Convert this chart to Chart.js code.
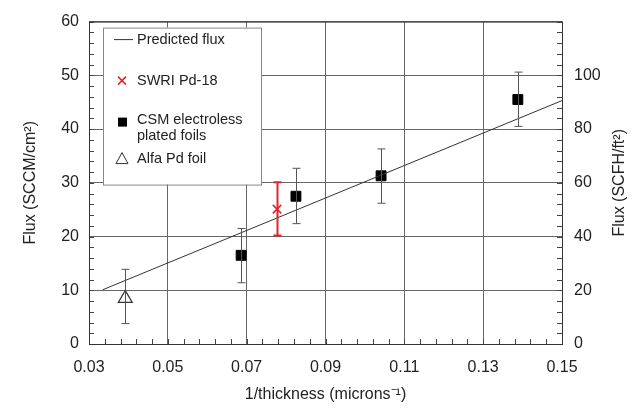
<!DOCTYPE html>
<html>
<head>
<meta charset="utf-8">
<script src="https://cdn.jsdelivr.net/npm/chart.js@4.4.0/dist/chart.umd.min.js"></script>
<style>
  body { margin: 0; background: #fff; }
  #wrap { width: 637px; height: 408px; }
</style>
</head>
<body>
<div id="wrap"><canvas id="flux-chart"></canvas></div>
<script>
// Predicted flux line (end points)
var lineX = [0.0335, 0.15];
var lineY = [10.1, 45.3];

// SWRI Pd-18
var swriX = [0.0777];
var swriY = [25.1];
var swriLow = [20.2];
var swriHigh = [30.1];

// CSM electroless plated foils
var csmX = [0.0686, 0.0825, 0.1041, 0.1388];
var csmY = [16.5, 27.5, 31.3, 45.5];
var csmLow = [11.4, 22.4, 26.2, 40.5];
var csmHigh = [21.5, 32.7, 36.3, 50.6];

// Alfa Pd foil
var alfaX = [0.0392];
var alfaY = [8.5];
var alfaLow = [3.8];
var alfaHigh = [13.9];

var xTicks = [0.03, 0.05, 0.07, 0.09, 0.11, 0.13, 0.15];
var legendLabels = ['Predicted flux', 'SWRI Pd-18', 'CSM electroless\nplated foils', 'Alfa Pd foil'];
var rightTitle = 'Flux (SCFH/ft\u00B2)';

function pts(xs, ys) {
    return xs.map(function (x, i) { return { x: x, y: ys[i] }; });
}

var font = 'Liberation Sans, Arial, sans-serif';
Chart.defaults.font.family = font;
Chart.defaults.color = '#222';

// error bars, minor ticks, frame, right title and the boxed legend
var extras = {
    id: 'extras',
    beforeDatasetsDraw: function (chart) {
        var ctx = chart.ctx, a = chart.chartArea;
        var xs = chart.scales.x, ys = chart.scales.y;
        ctx.save();
        ctx.strokeStyle = '#444';
        ctx.lineWidth = 1;
        ctx.beginPath();
        for (var v = 0; v <= 60; v += 2) {
            var py = Math.round(ys.getPixelForValue(v)) + 0.5;
            ctx.moveTo(a.left, py); ctx.lineTo(a.left + 5, py);
            ctx.moveTo(a.right, py); ctx.lineTo(a.right - 5, py);
        }
        for (var t = 0.03; t <= 0.1501; t += 0.004) {
            var px = Math.round(xs.getPixelForValue(t)) + 0.5;
            ctx.moveTo(px, a.bottom); ctx.lineTo(px, a.bottom - 5);
        }
        ctx.stroke();
        ctx.strokeStyle = '#333';
        ctx.strokeRect(a.left + 0.5, a.top + 0.5, a.right - a.left, a.bottom - a.top);

        // right axis title, read bottom to top like the left one
        ctx.translate(620, (a.top + a.bottom) / 2);
        ctx.rotate(-Math.PI / 2);
        ctx.font = '16px ' + font;
        ctx.fillStyle = '#222';
        ctx.textAlign = 'center';
        ctx.textBaseline = 'middle';
        ctx.fillText(rightTitle, 0, 0);
        ctx.restore();
    },
    afterDatasetsDraw: function (chart) {
        var ctx = chart.ctx, a = chart.chartArea;
        var xs = chart.scales.x, ys = chart.scales.y;
        function bars(xArr, lo, hi, color, width) {
            ctx.strokeStyle = color;
            ctx.lineWidth = width;
            ctx.beginPath();
            xArr.forEach(function (x, i) {
                var px = Math.round(xs.getPixelForValue(x)) + 0.5;
                var p1 = ys.getPixelForValue(lo[i]), p2 = ys.getPixelForValue(hi[i]);
                ctx.moveTo(px, p1); ctx.lineTo(px, p2);
                ctx.moveTo(px - 4, p1); ctx.lineTo(px + 4, p1);
                ctx.moveTo(px - 4, p2); ctx.lineTo(px + 4, p2);
            });
            ctx.stroke();
        }
        ctx.save();
        bars(csmX, csmLow, csmHigh, '#555', 1);
        bars(alfaX, alfaLow, alfaHigh, '#555', 1);
        bars(swriX, swriLow, swriHigh, '#e0242c', 2);
        ctx.restore();

        // boxed legend
        ctx.save();
        var lx = a.left + 14, ly = a.top + 6, lw = 158, lh = 157;
        ctx.fillStyle = '#fff';
        ctx.fillRect(lx, ly, lw, lh);
        ctx.strokeStyle = '#888';
        ctx.lineWidth = 1;
        ctx.strokeRect(lx + 0.5, ly + 0.5, lw, lh);
        ctx.font = '14.5px ' + font;
        ctx.textBaseline = 'middle';
        var tx = lx + 34, mx = lx + 19;
        var rows = [ly + 12, ly + 53, ly + 94, ly + 131];
        // line sample
        ctx.strokeStyle = '#333';
        ctx.beginPath();
        ctx.moveTo(lx + 11, rows[0]); ctx.lineTo(lx + 30, rows[0]);
        ctx.stroke();
        ctx.strokeStyle = '#e0242c';
        ctx.lineWidth = 1.5;
        ctx.beginPath();
        ctx.moveTo(mx - 4, rows[1] - 4); ctx.lineTo(mx + 4, rows[1] + 4);
        ctx.moveTo(mx + 4, rows[1] - 4); ctx.lineTo(mx - 4, rows[1] + 4);
        ctx.stroke();
        ctx.fillStyle = '#000';
        ctx.fillRect(mx - 4, rows[2] - 4, 9, 9);
        ctx.strokeStyle = '#333';
        ctx.lineWidth = 1;
        ctx.beginPath();
        ctx.moveTo(mx, rows[3] - 6); ctx.lineTo(mx + 6, rows[3] + 5); ctx.lineTo(mx - 6, rows[3] + 5);
        ctx.closePath();
        ctx.stroke();
        ctx.fillStyle = '#222';
        ctx.fillText(legendLabels[0], tx, rows[0]);
        ctx.fillText(legendLabels[1], tx, rows[1]);
        var two = legendLabels[2].split('\n');
        ctx.fillText(two[0], tx, rows[2] - 2);
        ctx.fillText(two[1], tx, rows[2] + 14);
        ctx.fillText(legendLabels[3], tx, rows[3]);
        ctx.restore();
    }
};

var ctx = document.getElementById('flux-chart').getContext('2d');
var chart = new Chart(ctx, {
    type: 'scatter',
    data: {
        datasets: [{
            type: 'line',
            label: 'Predicted flux',
            data: pts(lineX, lineY),
            borderColor: '#333',
            borderWidth: 1,
            pointRadius: 0,
        }, {
            label: 'SWRI Pd-18',
            data: pts(swriX, swriY),
            pointStyle: 'crossRot',
            pointRadius: 6,
            borderColor: '#e0242c',
            borderWidth: 1.5,
        }, {
            label: 'CSM electroless plated foils',
            data: pts(csmX, csmY),
            pointStyle: 'rect',
            pointRadius: 7,
            backgroundColor: '#000',
            borderColor: '#000',
            borderWidth: 1,
        }, {
            label: 'Alfa Pd foil',
            data: pts(alfaX, alfaY),
            pointStyle: 'triangle',
            pointRadius: 8,
            backgroundColor: '#fff',
            borderColor: '#333',
            borderWidth: 1.2,
        }]
    },
    options: {
        responsive: true,
        maintainAspectRatio: false,
        animation: false,
        layout: { padding: { top: 17, left: 0, right: 0, bottom: 0 } },
        plugins: {
            legend: { display: false },
            tooltip: { enabled: false },
        },
        scales: {
            x: {
                type: 'linear',
                min: 0.03,
                max: 0.15,
                afterBuildTicks: function (s) { s.ticks = xTicks.map(function (v) { return { value: v }; }); },
                afterFit: function (s) { s.height = 64; },
                ticks: { font: { size: 16 }, padding: 14, callback: function (v) { return v.toFixed(2); } },
                grid: { color: '#666', drawTicks: false },
                border: { display: false },
                title: { display: true, text: '1/thickness (microns\u207B\u00B9)', font: { size: 16 }, padding: { top: 2 } },
            },
            y: {
                position: 'left',
                min: 0,
                max: 60,
                afterFit: function (s) { s.width = 89; },
                ticks: { stepSize: 10, font: { size: 16 }, padding: 10 },
                grid: { color: '#666', drawTicks: false },
                border: { display: false },
                title: { display: true, text: 'Flux (SCCM/cm\u00B2)', font: { size: 16 }, padding: { top: 21, bottom: 0 } },
            },
            y2: {
                position: 'right',
                min: 0,
                max: 120,
                afterFit: function (s) { s.width = 75; },
                ticks: { stepSize: 20, font: { size: 16 }, padding: 12, callback: function (v) { return v < 120 ? v : ''; } },
                grid: { drawOnChartArea: false, drawTicks: false },
                border: { display: false },
            }
        }
    },
    plugins: [extras]
});
</script>
</body>
</html>
